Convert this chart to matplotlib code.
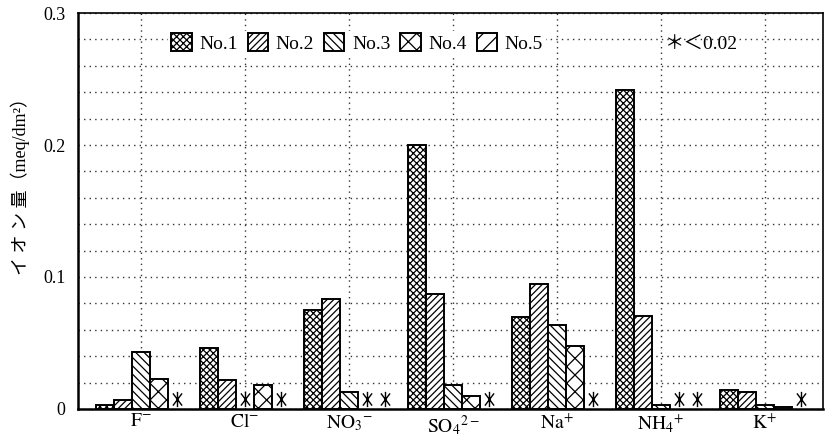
import numpy as np
import matplotlib
matplotlib.use("Agg")
import matplotlib.pyplot as plt
from matplotlib.patches import Patch
from matplotlib.path import Path

plt.rcParams['font.family'] = ['Liberation Serif', 'Noto Sans CJK JP']
plt.rcParams['mathtext.fontset'] = 'stix'
plt.rcParams['hatch.linewidth'] = 0.9

# ion species on the x axis
ions = [r'$\mathrm{F}^{-}$', r'$\mathrm{Cl}^{-}$', r'$\mathrm{NO_3}^{-}$',
        r'$\mathrm{SO_4}^{2-}$', r'$\mathrm{Na}^{+}$', r'$\mathrm{NH_4}^{+}$',
        r'$\mathrm{K}^{+}$']
samples = ['No.1', 'No.2', 'No.3', 'No.4', 'No.5']

# meq/dm2 per sample, nan = below 0.02 (marked with an asterisk)
no1 = [0.003, 0.046, 0.075, 0.200, 0.070, 0.242, 0.0145]
no2 = [0.0065, 0.022, 0.083, 0.087, 0.095, 0.0705, 0.0125]
no3 = [0.0435, np.nan, 0.0126, 0.018, 0.0636, 0.003, 0.0028]
no4 = [0.0227, 0.018, np.nan, 0.0098, 0.0477, np.nan, 0.0013]
no5 = [np.nan, np.nan, np.nan, np.nan, np.nan, np.nan, np.nan]

series = [no1, no2, no3, no4, no5]
hatches = ['xxxxx', '/////', '\\\\\\\\', 'xx', '//']
note = '＊＜0.02'

# tall six-armed asterisk used for the "not detected" entries
star = Path([(0, -1), (0, 1), (-0.6, -0.8), (0.6, 0.8), (-0.6, 0.8), (0.6, -0.8)],
            [Path.MOVETO, Path.LINETO, Path.MOVETO, Path.LINETO, Path.MOVETO, Path.LINETO])

fig = plt.figure(figsize=(8.32, 4.37), dpi=100)
ax = fig.add_axes([0.0938, 0.0641, 0.8954, 0.9061])

x = np.arange(len(ions))
w = 0.173
for i, vals in enumerate(series):
    vals = np.array(vals, dtype=float)
    pos = x + (i - 2) * w
    ok = ~np.isnan(vals)
    ax.bar(pos[ok], vals[ok], width=w, color='white', edgecolor='black',
           linewidth=1.4, hatch=hatches[i], zorder=3)
    # asterisk in the slot of a missing bar
    ax.plot(pos[~ok], np.full((~ok).sum(), 0.0075), ls='none', marker=star,
            markersize=11, markeredgewidth=1.0, color='black', zorder=3)

ax.set_xlim(-0.606, 6.558)
ax.set_ylim(0, 0.3)
ax.set_xticks(x)
ax.set_xticklabels(ions, fontsize=14)
ax.set_yticks([0, 0.1, 0.2, 0.3])
ax.set_yticklabels(['0', '0.1', '0.2', '0.3'], fontsize=13)
ax.set_yticks(np.arange(0, 0.3, 0.02), minor=True)
ax.tick_params(axis='both', which='both', length=0)
ax.tick_params(axis='y', pad=9)
ax.tick_params(axis='x', pad=3)

ax.set_axisbelow(True)
ax.grid(True, which='both', axis='y', color='#333333', ls=(0, (1, 3)), lw=1.0)
ax.grid(True, which='major', axis='x', color='#333333', ls=(0, (1, 3)), lw=1.0)
for side in ['left', 'bottom']:
    ax.spines[side].set_linewidth(1.8)
for side in ['right', 'top']:
    ax.spines[side].set_linewidth(1.2)

ax.set_ylabel('イ オ ン 量（meq/dm²）', fontsize=13)
ax.yaxis.set_label_coords(-0.064, 0.573)

# legend needs proxies: No.5 has no drawn bars
handles = [Patch(facecolor='white', edgecolor='black', linewidth=1.4, hatch=h)
           for h in hatches]
leg = ax.legend(handles, samples, loc='center left', bbox_to_anchor=(0.108, 0.924),
                ncol=5, fontsize=14, frameon=True, fancybox=False,
                edgecolor='none', facecolor='white', framealpha=1,
                handlelength=1.05, handleheight=1.0, handletextpad=0.4,
                columnspacing=0.5, borderpad=0.15)

ax.text(0.788, 0.918, note, transform=ax.transAxes, fontsize=14,
        ha='left', va='center')

fig.savefig('out.png', dpi=100)
